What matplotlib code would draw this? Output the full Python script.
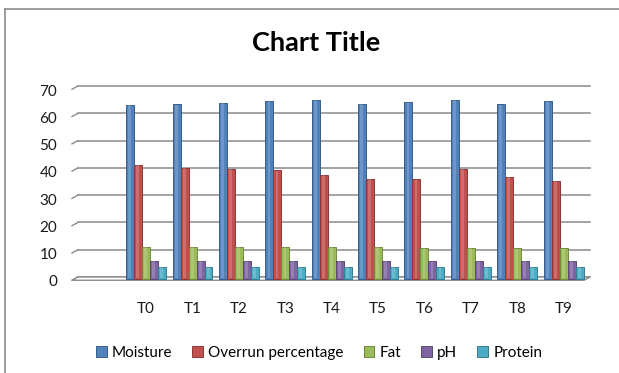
import matplotlib
matplotlib.use("Agg")
import matplotlib.pyplot as plt
from matplotlib.patches import Polygon
from matplotlib.lines import Line2D
from matplotlib.transforms import ScaledTranslation
import numpy as np

categories = ["T0", "T1", "T2", "T3", "T4", "T5", "T6", "T7", "T8", "T9"]
moisture = [63.7, 63.9, 64.5, 65.1, 65.5, 64.0, 64.9, 65.5, 63.9, 65.1]
overrun = [41.7, 40.7, 40.1, 39.7, 38.0, 36.5, 36.5, 40.2, 37.4, 35.9]
fat = [11.7, 11.7, 11.7, 11.7, 11.7, 11.7, 11.4, 11.4, 11.1, 11.1]
ph = [6.5, 6.5, 6.5, 6.5, 6.5, 6.5, 6.5, 6.5, 6.5, 6.5]
protein = [4.4, 4.4, 4.4, 4.3, 4.4, 4.4, 4.4, 4.2, 4.4, 4.3]

series = [
    ("Moisture", moisture, "#4F81BD", "#385D8A"),
    ("Overrun percentage", overrun, "#C0504D", "#8C3836"),
    ("Fat", fat, "#9BBB59", "#71893F"),
    ("pH", ph, "#8064A2", "#5C4776"),
    ("Protein", protein, "#4BACC6", "#357D91"),
]

plt.rcParams["font.family"] = ["Lato", "DejaVu Sans"]

W, H = 619, 373
fig = plt.figure(figsize=(W / 100, H / 100), dpi=100)

# outer chart border (left and top edges visible)
fig.add_artist(Line2D([5 / W, 5 / W], [0, 1 - 9 / H], color="#8c8c8c", lw=1.2))
fig.add_artist(Line2D([5 / W, 1], [1 - 9 / H, 1 - 9 / H], color="#8c8c8c", lw=1.2))

ax = fig.add_axes([78 / W, (H - 277) / H, 512 / W, 191 / H])
ax.set_xlim(-1.47, 9.57)
ax.set_ylim(0, 70)

x = np.arange(len(categories))
w = 0.172
dx, dy = 0.13, 1.2

# back-wall gridlines with short slanted stubs on the side wall
for v in range(0, 80, 10):
    ax.plot([-1.47, 9.57], [v, v], color="#8a8a8a", lw=1.1, zorder=1, clip_on=False)
    ax.plot([-1.47 - dx, -1.47], [v - dy, v], color="#8a8a8a", lw=1.0, zorder=1, clip_on=False)

# floor slab
floor = Polygon([(-1.47 - dx, -dy), (9.57 - dx, -dy), (9.57, 0), (-1.47, 0)],
                closed=True, facecolor="white", edgecolor="#8a8a8a", lw=1.0,
                zorder=2, clip_on=False)
ax.add_patch(floor)

for i, (name, vals, color, edge) in enumerate(series):
    pos = x + (i - 2) * w
    ax.bar(pos, vals, width=w, bottom=-0.6, color=color, edgecolor=edge,
           linewidth=0.7, zorder=3, clip_on=False, label=name)
    # soft highlight down the middle of each column
    ax.bar(pos - w * 0.05, np.array(vals) - 0.3, width=w * 0.35, bottom=-0.4,
           color="white", alpha=0.18, linewidth=0, zorder=4, clip_on=False)

for s in ax.spines.values():
    s.set_visible(False)

ax.set_yticks(range(0, 80, 10))
ax.tick_params(axis="y", length=0, pad=15, labelsize=11, labelcolor="#1a1a1a")
for lbl in ax.get_yticklabels():
    lbl.set_transform(lbl.get_transform() + ScaledTranslation(0, -0.04, fig.dpi_scale_trans))

ax.set_xticks(x)
ax.set_xticklabels(categories)
ax.tick_params(axis="x", length=0, pad=18, labelsize=11, labelcolor="#1a1a1a")

fig.text(316 / W, 1 - 43 / H, "Chart Title", ha="center", va="center",
         fontsize=19.5, fontweight="bold", color="#000000")

fig.legend(loc="center", bbox_to_anchor=(319 / W, 1 - 353 / H), ncol=5,
           frameon=False, fontsize=11, handlelength=0.7, handleheight=0.7,
           handletextpad=0.35, columnspacing=1.3)

fig.savefig("out.png", dpi=100)
